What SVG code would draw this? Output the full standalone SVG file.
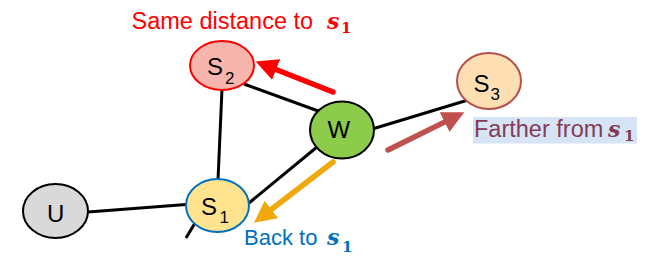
<svg xmlns="http://www.w3.org/2000/svg" width="655" height="264" viewBox="0 0 655 264">
<style>
.edge{stroke:#000;stroke-width:3;fill:none;stroke-linecap:butt}
.arrow{fill:none;stroke-width:5.5;stroke-linecap:round}
.lbl{font-family:"Liberation Sans",Arial,sans-serif;font-size:24px;fill:#000}
.sub{font-size:17px}
.cap{font-family:"Liberation Sans",Arial,sans-serif;font-size:23.5px}
.m{font-family:"DejaVu Serif","Liberation Serif",serif;font-style:italic;font-weight:bold;font-size:22px}
.mi{font-family:"DejaVu Serif","Liberation Serif",serif;font-weight:bold;font-size:15px}
</style>
<defs>
<marker id="hRed" viewBox="0 0 4 4" refX="1" refY="2" markerWidth="4" markerHeight="4" orient="auto" markerUnits="strokeWidth"><path d="M0,0 L4,2 L0,4 z" fill="#FF0000"/></marker>
<marker id="hBrown" viewBox="0 0 4 4" refX="1" refY="2" markerWidth="4" markerHeight="4" orient="auto" markerUnits="strokeWidth"><path d="M0,0 L4,2 L0,4 z" fill="#C0504D"/></marker>
<marker id="hOrange" viewBox="0 0 4 4" refX="1" refY="2" markerWidth="4" markerHeight="4" orient="auto" markerUnits="strokeWidth"><path d="M0,0 L4,2 L0,4 z" fill="#F0A80A"/></marker>
</defs>
<g id="connectors">
<line class="edge" x1="88" y1="212" x2="186" y2="204.5"/>
<line class="edge" x1="218" y1="180" x2="222" y2="89"/>
<line class="edge" x1="244" y1="84" x2="321" y2="112"/>
<line class="edge" x1="317" y1="147" x2="249" y2="203"/>
<line class="edge" x1="374" y1="128.5" x2="468" y2="100"/>
<line class="edge" x1="186" y1="238" x2="195" y2="223"/>
</g>
<g id="node-u"><ellipse cx="55.5" cy="211" rx="32.5" ry="27" fill="#D9D9D9" stroke="#000" stroke-width="2"/><text class="lbl" x="47" y="221.5">U</text></g>
<g id="node-s1"><ellipse cx="217.5" cy="205.5" rx="31.5" ry="26.5" fill="#FFE38F" stroke="#0070C0" stroke-width="2"/><text class="lbl" x="201" y="215">S<tspan class="sub" x="219.5" y="223">1</tspan></text></g>
<g id="node-s2"><ellipse cx="222" cy="65.5" rx="32" ry="24.5" fill="#F8B5AE" stroke="#FF0000" stroke-width="2"/><text class="lbl" x="207" y="75">S<tspan class="sub" x="225" y="84">2</tspan></text></g>
<g id="node-w"><ellipse cx="342" cy="130" rx="32" ry="28.5" fill="#8DCB4B" stroke="#000" stroke-width="2"/><text class="lbl" x="327.5" y="138">W</text></g>
<g id="node-s3"><ellipse cx="489" cy="81" rx="32" ry="28" fill="#FDDFB3" stroke="#B5504D" stroke-width="2"/><text class="lbl" x="473.5" y="91.5">S<tspan class="sub" x="490.5" y="99.5">3</tspan></text></g>
<g id="arrows">
<line class="arrow" x1="333" y1="92" x2="271" y2="67.5" stroke="#FF0000" marker-end="url(#hRed)"/>
<line class="arrow" x1="388" y1="150" x2="449.5" y2="119.6" stroke="#C0504D" marker-end="url(#hBrown)"/>
<line class="arrow" x1="333" y1="162" x2="267" y2="212.8" stroke="#F0A80A" marker-end="url(#hOrange)"/>
</g>
<g id="label-same"><text class="cap" x="131.5" y="28.5" fill="#FF0000">Same distance to</text><text class="m" x="327" y="28.5" fill="#FF0000">s</text><text class="mi" x="341" y="33" fill="#FF0000">1</text></g>
<g id="label-farther"><rect x="473" y="117" width="164" height="26.5" fill="#D6E4F6"/><text class="cap" x="474" y="137" fill="#843C57">Farther from</text><text class="m" x="608" y="137" fill="#843C57">s</text><text class="mi" x="624" y="141" fill="#843C57">1</text></g>
<g id="label-back"><text class="cap" x="244" y="245" fill="#0070C0" style="font-size:22px">Back to</text><text class="m" x="327" y="245" fill="#0070C0">s</text><text class="mi" x="342" y="251.5" fill="#0070C0">1</text></g>
</svg>
